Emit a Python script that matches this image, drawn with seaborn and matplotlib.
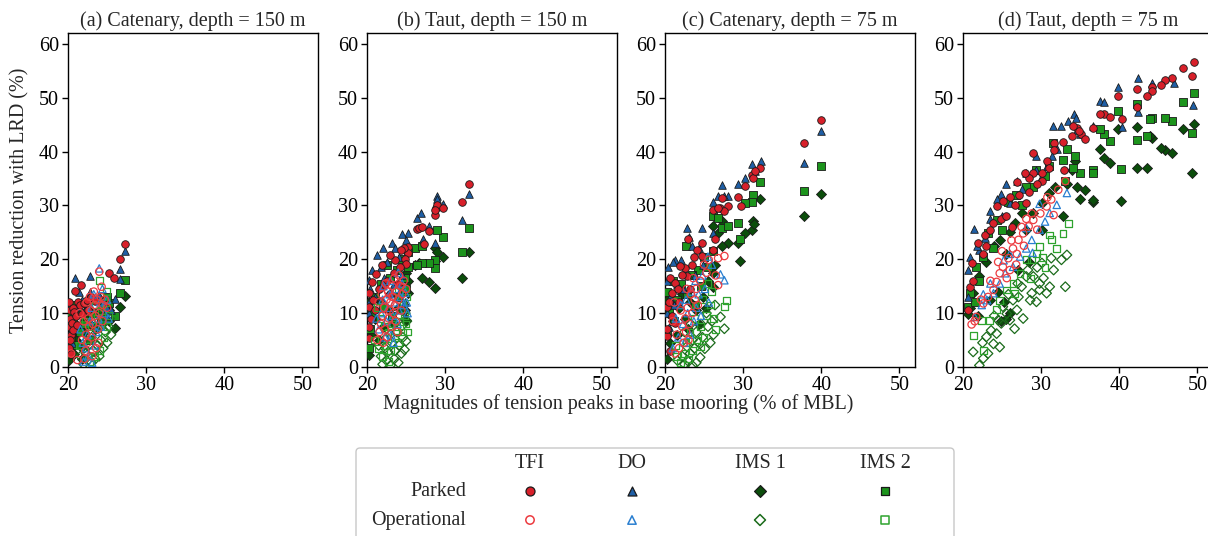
import numpy as np
import matplotlib
matplotlib.use("Agg")
import matplotlib.pyplot as plt
from matplotlib.patches import FancyBboxPatch
import seaborn as sns

# ---------------- data (x = peak tension % MBL, y = reduction %) ----------------
# Panel (a) Catenary, 150 m
A_TFI_P = [(20.1,12.0),(20.2,10.5),(20.3,9.0),(20.2,7.5),(20.4,6.0),(20.3,5.0),(20.6,11.0),(20.5,8.2),(20.8,10.2),(20.7,6.8),
           (20.9,14.1),(21.3,12.0),(21.0,9.5),(21.1,7.8),(21.6,15.2),(21.5,11.5),(22.0,11.8),(22.4,12.5),(23.0,13.0),(23.5,12.2),
           (25.3,17.4),(25.9,16.5),(26.7,20.1),(27.3,22.8),(20.1,3.5),(20.4,2.5),(21.8,9.8),(22.6,10.5)]
A_DO_P = [(20.85,16.5),(22.8,16.8),(21.4,13.9),(22.8,13.9),(26.7,18.1),(27.3,21.6),(26.0,12.7),(26.7,16.3),(20.3,11.5),(20.6,9.8),
          (21.0,11.2),(21.8,12.5),(22.3,11.0),(23.2,12.8),(24.0,13.3),(24.5,12.0),(25.0,11.0),(20.2,6.5),(20.5,4.5),(21.2,8.0),
          (24.8,9.5),(25.5,10.5)]
A_IMS1_P = [(27.3,13.2),(26.7,11.2),(26.0,7.3),(20.1,1.3),(20.2,3.0),(20.3,4.5),(20.5,6.0),(20.4,8.0),(20.8,2.5),(21.0,5.0),
            (21.3,7.5),(21.6,3.8),(22.0,6.5),(22.3,9.0),(22.8,8.0),(23.5,7.0),(24.0,10.0),(24.6,9.0),(25.2,8.5),(25.3,10.5),
            (20.7,10.0),(21.8,1.5)]
A_IMS2_P = [(27.3,16.1),(26.7,13.7),(26.0,9.5),(25.3,11.8),(20.2,2.5),(20.4,5.5),(20.6,8.5),(20.9,11.5),(21.2,4.0),(21.6,10.0),
            (22.1,8.0),(22.6,11.5),(23.1,10.0),(23.8,12.5),(24.5,11.0),(25.0,13.0),(20.3,10.0),(21.5,6.5),(22.8,5.0),(24.2,8.5)]
A_TFI_O = [(24.0,17.7),(24.3,14.9),(21.2,1.3),(20.4,2.5),(22.2,3.0),(22.5,4.5),(22.3,6.0),(22.7,7.5),(22.6,9.0),(22.9,10.5),
           (23.0,5.5),(23.2,8.0),(23.4,11.5),(23.5,9.5),(23.7,12.5),(23.8,7.0),(24.0,10.0),(24.2,13.0),(24.5,11.5),(22.4,12.0),
           (22.8,13.0),(23.3,14.0),(23.6,3.5),(22.1,1.5),(24.7,12.5),(25.0,11.0),(23.1,2.0),(22.0,8.5),(21.8,5.0),(21.5,10.0),
           (23.9,4.5),(24.4,8.5)]
A_DO_O = [(24.0,18.3),(22.0,1.0),(22.3,3.5),(22.5,6.0),(22.8,8.5),(23.0,11.0),(23.3,13.5),(23.6,6.5),(23.9,9.0),(24.1,12.0),
          (24.4,14.5),(24.7,10.0),(25.0,12.5),(22.6,2.0),(23.4,4.0),(24.2,7.5),(21.6,7.0),(21.9,4.5),(25.2,9.0),(23.1,0.8)]
A_IMS1_O = [(22.0,0.5),(22.5,1.2),(23.0,0.8),(23.5,1.5),(22.3,2.5),(23.2,3.0),(24.0,2.0),(24.5,3.5),(25.0,4.5),(25.5,6.0),
            (24.8,6.5),(24.2,5.0),(23.8,4.0),(23.0,5.5),(22.6,4.0),(22.1,3.5),(24.5,8.0),(25.2,7.5),(23.6,7.0),(22.9,6.5),
            (21.6,2.0),(25.3,9.0),(24.0,9.5),(23.4,8.5)]
A_IMS2_O = [(24.0,16.1),(25.0,7.5),(24.6,5.5),(24.1,3.0),(23.4,2.0),(22.8,1.0),(22.4,5.0),(23.0,7.5),(23.7,9.0),(24.3,10.5),
            (24.8,12.0),(25.2,9.5),(22.2,8.5),(21.5,4.0),(23.5,11.5),(24.9,14.0)]

# Panel (b) Taut, 150 m
B_TFI_P = [(33.1,33.9),(32.1,30.6),(28.8,29.5),(28.9,30.1),(28.7,28.3),(29.7,29.5),(28.7,29.1),(26.4,25.6),(26.7,25.8),(27.1,26.0),
           (27.9,25.2),(27.3,22.9),(25.2,22.3),(25.2,21.1),(24.7,22.0),(24.3,21.8),(23.6,19.9),(23.0,20.8),(21.9,18.9),(21.2,17.2),
           (20.6,15.8),(20.2,13.7),(20.2,11.2),(20.2,5.3),(24.8,20.1),(25.0,19.2),(24.2,18.5),(23.5,17.5),(22.6,16.0),(22.0,15.0),
           (21.5,14.5),(20.8,12.5),(20.5,9.0),(20.3,7.5),(21.0,10.5),(24.0,15.5),(23.0,13.5)]
B_DO_P = [(33.1,32.2),(32.1,27.3),(28.9,31.7),(29.0,31.2),(29.7,30.2),(26.4,27.6),(26.9,28.6),(27.9,26.2),(28.7,23.0),(27.2,23.7),
          (25.2,24.8),(24.5,24.6),(23.2,23.0),(23.6,22.1),(22.0,22.1),(21.3,20.8),(20.6,18.0),(20.2,16.1),(24.1,20.5),(25.0,23.5),
          (22.5,19.5),(21.8,18.5),(20.4,14.5),(20.2,12.0),(21.0,13.0),(22.2,16.5),(24.5,17.0),(23.4,15.5),(24.8,12.0),(20.3,10.0)]
B_IMS1_P = [(33.1,21.3),(32.1,16.5),(29.7,20.5),(28.7,22.0),(28.9,21.4),(28.7,19.6),(28.7,14.6),(27.9,15.8),(27.1,16.5),(26.2,18.9),
            (26.7,19.3),(25.2,13.7),(25.0,8.8),(20.2,2.2),(25.3,16.0),(25.0,17.5),(24.5,14.0),(24.0,11.0),(23.5,8.0),(22.8,10.5),
            (22.0,7.5),(21.5,5.0),(21.0,9.0),(20.5,6.0),(20.3,12.0),(24.8,10.5),(23.0,13.5),(21.8,12.0)]
B_IMS2_P = [(33.1,25.8),(32.1,21.4),(29.7,24.2),(28.9,25.5),(28.7,18.3),(28.7,19.9),(27.9,19.3),(27.1,19.3),(26.2,22.0),(27.0,22.4),
            (26.4,19.0),(25.2,21.4),(25.3,18.5),(24.8,16.5),(24.5,20.0),(23.8,18.0),(23.0,16.5),(22.5,19.0),(21.8,15.5),(21.0,13.0),
            (20.5,10.0),(20.2,3.5),(20.4,7.0),(22.0,11.0),(24.0,13.0),(25.0,14.5),(23.2,9.5)]
B_TFI_O = [(21.3,5.0),(21.6,6.5),(21.8,8.0),(22.0,9.5),(22.2,11.0),(22.3,7.0),(22.5,12.5),(22.6,5.5),(22.7,14.0),(22.8,9.0),
           (22.9,10.5),(23.0,12.0),(23.1,7.5),(23.2,15.0),(23.3,13.0),(23.4,10.0),(23.5,16.5),(23.6,11.5),(23.7,8.5),(23.8,14.0),
           (24.0,12.5),(24.1,17.0),(24.3,15.0),(24.5,13.5),(24.7,16.0),(21.5,12.0),(21.9,13.5),(22.4,15.5),(23.9,6.5),(24.4,10.5),
           (25.0,14.5),(22.1,4.5)]
B_DO_O = [(21.5,7.0),(21.8,10.0),(22.0,12.5),(22.3,5.5),(22.5,8.5),(22.7,11.0),(22.9,13.5),(23.1,6.0),(23.3,9.5),(23.5,12.0),
          (23.7,14.5),(23.9,8.0),(24.1,10.5),(24.3,13.0),(24.5,15.5),(24.7,11.5),(24.9,13.8),(25.1,12.0),(22.1,15.0),(23.0,16.0),
          (24.0,17.5),(25.2,10.0),(21.2,9.0),(23.4,4.5)]
B_IMS1_O = [(22.0,0.5),(22.5,1.2),(23.0,0.3),(23.5,1.5),(24.0,0.8),(24.4,2.5),(24.8,3.2),(25.0,4.8),(24.6,5.5),(24.1,4.0),
            (23.6,3.0),(23.2,4.5),(22.7,2.8),(22.3,3.5),(21.8,2.0),(23.0,6.0),(23.8,6.5),(24.4,7.5),(25.1,8.5),(22.5,5.5),
            (21.5,4.0),(24.9,10.0),(24.2,9.5),(23.4,8.0)]
B_IMS2_O = [(21.0,5.0),(21.5,3.5),(22.0,2.0),(22.5,4.0),(23.0,3.0),(23.5,5.5),(24.0,4.5),(24.5,6.5),(25.0,8.0),(25.2,6.5),
            (24.8,9.5),(24.2,8.5),(23.8,7.5),(23.2,8.0),(22.7,6.5),(22.2,7.5),(21.7,9.0),(24.6,11.5),(25.1,13.0),(24.0,14.0),
            (21.3,11.0),(22.8,1.0)]

# Panel (c) Catenary, 75 m
C_TFI_P = [(40.0,45.8),(37.8,41.6),(32.2,37.0),(31.1,35.7),(31.3,35.1),(31.5,36.4),(30.3,33.6),(29.7,29.9),(29.3,31.6),(27.3,31.4),
           (27.1,29.6),(28.1,29.8),(27.5,28.9),(26.1,29.2),(26.8,29.5),(26.4,23.7),(26.2,21.7),(24.7,23.0),(24.1,21.8),(23.0,23.8),
           (23.7,20.5),(22.6,18.4),(21.9,18.7),(20.6,16.5),(21.3,15.6),(20.9,13.7),(20.2,11.2),(20.9,9.4),(21.3,8.1),(20.2,5.7),
           (23.4,19.0),(24.7,20.6),(22.8,16.8),(20.5,12.0),(21.6,14.5),(22.2,17.0),(20.3,7.0),(20.6,3.0),(21.8,12.0),(23.2,14.5)]
C_DO_P = [(40.0,43.9),(37.8,37.9),(32.3,38.2),(31.1,37.6),(31.5,36.3),(29.3,34.0),(30.2,35.1),(26.1,30.7),(27.3,33.7),(26.8,31.7),
          (28.0,31.7),(27.6,31.7),(26.2,24.8),(24.7,25.8),(22.8,25.8),(23.1,24.2),(21.3,19.9),(20.4,18.6),(21.0,19.5),(22.0,19.8),
          (23.5,22.5),(24.3,22.0),(20.2,16.0),(20.6,13.0),(21.5,15.5),(22.5,17.5),(24.8,19.0),(20.3,10.0),(21.2,11.5),(22.3,14.5),
          (23.9,17.0),(20.5,7.5)]
C_IMS1_P = [(40.0,32.1),(37.8,28.1),(32.2,31.2),(31.3,27.1),(31.1,25.5),(31.4,26.5),(30.2,24.8),(29.3,23.1),(29.6,19.7),(26.1,26.1),
            (27.3,27.1),(26.8,24.8),(28.0,23.0),(27.3,22.5),(26.2,14.9),(26.2,17.4),(26.4,19.0),(25.5,16.0),(24.8,13.0),(24.0,10.5),
            (23.2,12.0),(22.5,9.0),(21.8,11.0),(21.0,8.5),(20.4,10.0),(20.2,1.5),(20.6,4.5),(21.5,6.0),(23.0,7.0),(24.4,8.0),
            (25.3,11.0),(22.2,13.5),(20.3,12.5)]
C_IMS2_P = [(40.0,37.3),(37.8,32.6),(32.2,34.3),(31.3,32.0),(31.1,30.7),(30.2,30.4),(29.3,26.8),(29.6,23.7),(26.1,28.1),(26.8,27.6),
            (27.3,25.8),(28.0,26.1),(26.2,21.6),(25.0,20.5),(24.2,18.0),(22.7,22.5),(23.5,17.0),(22.0,15.5),(21.0,16.0),(20.3,14.0),
            (20.5,10.5),(21.5,12.5),(22.8,13.5),(24.6,15.0),(20.2,6.5),(21.2,8.5),(23.8,11.5),(25.5,18.5)]
C_TFI_O = [(27.6,20.6),(26.8,20.2),(25.6,19.9),(25.0,19.0),(26.8,15.2),(26.5,17.0),(25.3,17.5),(24.5,16.0),(24.0,14.5),(23.8,12.5),
           (23.5,10.0),(23.3,13.5),(23.1,8.0),(22.9,11.0),(22.7,6.5),(22.6,9.0),(22.4,4.5),(22.2,7.5),(22.0,10.5),(21.8,3.5),
           (21.5,6.0),(21.3,2.5),(21.0,8.5),(22.8,14.5),(23.6,16.5),(24.2,11.5),(23.0,5.0),(21.2,12.0)]
C_DO_O = [(27.1,17.2),(27.6,16.1),(25.5,20.5),(26.0,19.0),(25.1,14.5),(25.6,12.0),(24.8,17.0),(24.3,13.5),(24.0,11.0),(23.7,8.5),
          (23.4,14.0),(23.2,6.0),(22.9,10.0),(22.7,12.5),(22.5,4.5),(22.3,8.0),(22.0,11.5),(21.7,5.5),(21.4,9.0),(21.0,3.5),
          (24.6,9.5),(23.9,16.0)]
C_IMS1_O = [(27.6,7.1),(27.1,9.3),(26.4,11.5),(25.1,3.4),(24.5,1.8),(24.0,0.8),(23.5,0.3),(23.0,1.0),(22.5,0.5),(23.2,2.5),
            (23.8,3.5),(24.3,4.5),(24.8,5.5),(25.5,7.5),(26.0,8.5),(25.3,10.0),(24.6,8.0),(24.0,6.5),(23.5,5.0),(22.8,3.8),
            (22.2,2.0),(21.6,1.2),(25.8,4.5),(26.2,6.0),(22.5,6.5),(23.3,8.0)]
C_IMS2_O = [(27.9,12.4),(27.6,11.2),(26.2,9.0),(26.5,7.0),(24.6,3.7),(25.0,5.5),(25.8,11.5),(26.0,14.0),(25.3,9.5),(24.5,7.5),
            (24.0,5.0),(23.5,3.0),(23.0,1.5),(22.5,2.5),(22.0,0.8),(21.5,2.0),(23.8,9.0),(24.8,12.5),(23.2,6.5),(22.7,4.5),
            (25.5,15.5),(21.3,4.0)]

# Panel (d) Taut, 75 m
D_TFI_P = [(49.6,56.7),(49.3,54.0),(48.1,55.5),(46.8,53.6),(45.9,53.3),(45.3,52.4),(44.2,52.0),(44.2,51.2),(43.6,50.3),(42.3,51.6),
           (42.3,48.3),(39.9,50.3),(40.3,46.1),(38.1,47.0),(37.5,47.0),(38.8,46.5),(36.6,44.4),(35.1,43.2),(34.6,44.4),(34.8,43.9),
           (34.1,44.7),(33.9,42.9),(35.6,42.4),(32.8,41.7),(31.6,41.6),(31.6,40.2),(30.7,38.3),(29.0,39.8),(29.0,36.0),(30.1,36.0),
           (30.1,34.5),(28.5,35.0),(27.9,36.0),(28.4,32.4),(26.9,34.3),(26.0,31.5),(26.6,30.0),(25.1,30.9),(24.3,29.8),(23.9,26.8),
           (22.8,24.5),(23.4,25.5),(21.9,23.0),(21.1,19.3),(20.9,14.9),(21.3,16.0),(22.5,21.0),(24.8,27.5),(27.2,32.0),(25.5,28.0),
           (29.5,34.0),(31.0,37.0),(32.9,36.5),(20.7,10.5),(26.3,26.0),(28.0,30.5),(23.0,22.5)]
D_DO_P = [(42.4,53.6),(44.2,52.8),(47.0,52.7),(42.4,47.4),(39.9,52.0),(37.6,49.3),(38.1,49.1),(40.3,44.6),(36.7,44.7),(49.4,48.6),
          (34.2,46.9),(33.5,45.7),(34.4,46.2),(32.5,44.8),(31.5,44.8),(35.0,43.2),(34.6,44.0),(31.4,39.1),(30.7,37.3),(29.3,39.1),
          (29.4,36.6),(28.1,36.0),(26.9,34.5),(25.5,34.0),(24.9,32.1),(24.4,31.1),(23.4,28.9),(23.5,27.5),(21.4,25.6),(22.1,21.7),
          (20.9,20.5),(20.6,18.0),(20.6,13.0),(22.8,24.0),(26.0,30.5),(27.5,33.0),(30.0,35.0),(32.0,40.5),(21.8,22.5),(25.0,28.0)]
D_IMS1_P = [(49.6,45.2),(48.1,44.1),(49.3,36.0),(46.8,39.8),(45.9,40.2),(45.3,40.6),(44.2,42.5),(44.0,42.8),(43.6,37.0),(42.3,37.0),
            (42.3,44.6),(40.2,30.9),(39.9,44.1),(38.8,37.9),(38.1,38.8),(37.5,40.4),(36.6,30.7),(36.6,31.0),(35.6,32.9),(35.0,31.2),
            (34.6,33.5),(33.9,36.6),(34.3,38.2),(33.3,33.9),(32.8,28.0),(31.8,33.5),(31.0,32.3),(30.1,30.4),(30.1,25.5),(29.0,28.6),
            (28.1,25.5),(26.6,26.7),(26.0,25.0),(24.7,23.6),(24.0,22.5),(22.1,16.8),(21.3,13.7),(20.6,9.9),(21.9,9.5),(20.9,11.0),
            (23.0,19.5),(25.5,21.0),(27.5,28.5),(24.5,14.0),(25.2,12.0),(26.0,10.0),(24.8,8.5),(25.5,9.0),(23.5,12.5),(27.0,18.0),
            (28.5,19.5)]
D_IMS2_P = [(49.6,50.9),(48.1,49.2),(49.3,43.5),(46.8,45.7),(45.9,46.2),(44.2,46.2),(44.0,46.0),(43.6,42.9),(42.3,42.2),(42.3,48.9),
            (40.2,36.8),(39.9,47.5),(38.8,41.9),(38.1,43.2),(37.5,44.1),(36.6,36.6),(36.6,36.0),(35.0,36.0),(34.1,37.0),(34.3,39.1),
            (33.3,40.4),(32.8,38.5),(31.5,41.6),(31.0,37.3),(29.4,36.6),(29.0,33.5),(28.1,33.5),(25.8,30.7),(26.8,32.0),(24.3,27.3),
            (23.2,24.8),(21.7,18.6),(20.9,13.7),(20.6,11.2),(21.5,12.1),(22.5,20.5),(27.5,30.0),(30.5,35.5),(33.0,34.5),(25.0,25.5),
            (23.8,22.0),(22.0,16.0)]
D_TFI_O = [(33.1,34.5),(32.2,32.9),(31.3,31.1),(30.7,29.8),(29.9,28.5),(29.0,27.3),(28.4,26.1),(27.7,24.8),(27.1,23.6),(26.4,22.0),
           (25.8,20.2),(25.1,18.6),(24.7,17.4),(24.3,15.8),(23.9,14.3),(23.2,13.0),(22.6,11.8),(21.7,9.3),(21.1,7.9),(21.5,8.5),
           (27.5,26.0),(26.9,21.0),(26.2,23.5),(25.0,21.5),(28.1,27.5),(28.8,28.5),(30.8,31.5),(31.6,28.2),(25.6,16.5),(26.8,19.0),
           (24.5,19.5),(23.5,16.0),(29.5,25.5),(27.8,22.5),(22.3,12.5),(26.0,18.0)]
D_DO_O = [(33.3,32.3),(32.0,30.1),(31.1,28.6),(29.8,25.5),(28.8,23.6),(28.1,22.0),(27.3,20.5),(26.4,18.6),(25.4,17.4),(24.7,15.5),
          (23.9,13.7),(23.1,12.4),(22.4,11.5),(21.5,9.3),(26.0,21.0),(25.2,19.8),(29.8,30.3),(28.1,25.8),(28.9,21.2),(23.5,15.5),
          (22.6,13.5),(30.5,27.0)]
D_IMS1_O = [(33.1,14.9),(33.3,20.8),(32.6,19.9),(31.3,20.2),(31.6,18.0),(30.1,19.3),(29.8,15.5),(29.8,14.3),(29.0,16.8),(28.8,13.7),
            (28.1,16.8),(27.5,14.9),(27.7,9.0),(26.9,10.6),(26.4,12.4),(26.0,8.7),(25.6,9.9),(24.9,8.1),(24.3,6.2),(23.9,4.3),
            (23.2,2.5),(22.6,1.6),(22.1,0.3),(21.3,2.8),(23.0,5.6),(23.6,6.8),(24.5,8.7),(25.1,11.2),(27.1,13.0),(28.6,12.4),
            (29.4,12.1),(30.7,13.7),(31.1,14.9),(30.3,16.5),(26.6,7.1),(24.7,3.7),(27.0,15.5),(25.8,13.5),(24.0,9.5),(28.3,18.0),
            (29.5,18.5),(22.5,4.5)]
D_IMS2_O = [(33.5,26.7),(32.8,24.8),(31.1,24.5),(31.3,23.6),(29.8,22.4),(29.4,21.1),(28.8,20.0),(28.1,19.9),(27.3,17.4),(26.4,15.5),
            (25.6,14.3),(24.7,12.4),(24.3,10.6),(23.4,8.7),(22.4,8.7),(21.3,5.9),(22.6,3.1),(26.6,13.7),(28.6,16.5),(30.2,20.3),
            (30.5,18.5),(32.0,22.0)]

TITLES = ["(a) Catenary, depth = 150 m", "(b) Taut, depth = 150 m",
          "(c) Catenary, depth = 75 m", "(d) Taut, depth = 75 m"]
X_TICKS = [20, 30, 40, 50]
Y_TICKS = [0, 10, 20, 30, 40, 50, 60]
METHODS = ["TFI", "DO", "IMS 1", "IMS 2"]
CONDITIONS = ["Parked", "Operational"]

PANEL_DATA = [
    {"P": [A_IMS1_P, A_IMS2_P, A_DO_P, A_TFI_P], "O": [A_IMS1_O, A_IMS2_O, A_DO_O, A_TFI_O]},
    {"P": [B_IMS1_P, B_IMS2_P, B_DO_P, B_TFI_P], "O": [B_IMS1_O, B_IMS2_O, B_DO_O, B_TFI_O]},
    {"P": [C_IMS1_P, C_IMS2_P, C_DO_P, C_TFI_P], "O": [C_IMS1_O, C_IMS2_O, C_DO_O, C_TFI_O]},
    {"P": [D_IMS1_P, D_IMS2_P, D_DO_P, D_TFI_P], "O": [D_IMS1_O, D_IMS2_O, D_DO_O, D_TFI_O]},
]

# styles, in drawing order IMS1, IMS2, DO, TFI
P_STYLE = [dict(marker="D", s=26, color="#0b4d0b"),
           dict(marker="s", s=26, color="#1c941c"),
           dict(marker="^", s=30, color="#1f5fa6"),
           dict(marker="o", s=30, color="#d8202a")]
O_STYLE = [dict(marker="D", s=24, color="#1b6b1b"),
           dict(marker="s", s=24, color="#2ea32e"),
           dict(marker="^", s=28, color="#2a7fd0"),
           dict(marker="o", s=28, color="#ec3b40")]

FS = 14.5

# ---------------- figure ----------------
sns.set_style("ticks")
plt.rcParams["font.family"] = ["Liberation Serif", "DejaVu Serif"]
plt.rcParams["font.size"] = FS

W, H = 1208, 536
fig = plt.figure(figsize=(W / 100, H / 100), dpi=100)

lefts = [68, 367, 665, 963]
ax_w, top, bottom = 250, 33, 367


def draw(ax, pts, style, filled):
    xs = [p[0] for p in pts]
    ys = [p[1] for p in pts]
    if filled:
        sns.scatterplot(x=xs, y=ys, ax=ax, marker=style["marker"], s=style["s"],
                        facecolor=style["color"], edgecolor="#1a1a1a", linewidth=0.6, zorder=3)
    else:
        sns.scatterplot(x=xs, y=ys, ax=ax, marker=style["marker"], s=style["s"],
                        facecolors="none", edgecolor=style["color"], linewidth=0.9, zorder=3)


for i, (l, title, pdata) in enumerate(zip(lefts, TITLES, PANEL_DATA)):
    ax = fig.add_axes([l / W, (H - bottom) / H, ax_w / W, (bottom - top) / H])
    for pts, st in zip(pdata["P"], P_STYLE):
        draw(ax, pts, st, True)
    for pts, st in zip(pdata["O"], O_STYLE):
        draw(ax, pts, st, False)
    ax.set_xlim(20, 52)
    ax.set_ylim(0, 62)
    ax.set_xticks(X_TICKS)
    ax.set_yticks(Y_TICKS)
    ax.set_title(title, fontsize=FS, pad=5)
    ax.tick_params(length=4, width=1, colors="black", labelsize=FS, pad=2.5)
    for sp in ax.spines.values():
        sp.set_color("black")
        sp.set_linewidth(1.0)
    if i == 0:
        ax.set_ylabel("Tension reduction with LRD (%)", fontsize=FS, labelpad=7)

fig.text(618 / W, 1 - 404 / H, "Magnitudes of tension peaks in base mooring (% of MBL)",
         ha="center", va="center", fontsize=FS)

# ---------------- custom legend table ----------------
lx0, lx1, ly0 = 355, 955, 447
lax = fig.add_axes([lx0 / W, 0, (lx1 - lx0) / W, (H - ly0) / H])
lax.set_xlim(lx0, lx1)
lax.set_ylim(H, ly0)
lax.axis("off")
box = FancyBboxPatch((lx0 + 1, ly0 + 1), lx1 - lx0 - 2, 120, boxstyle="round,pad=0,rounding_size=4",
                     fc="white", ec="#c8c8c8", lw=1.0, clip_on=False, transform=lax.transData)
lax.add_patch(box)
col_x = [530, 632, 760, 885]
for cx, m in zip(col_x, METHODS):
    lax.text(cx, 463, m, ha="center", va="center", fontsize=FS)
row_y = [491, 520]
for ry, c in zip(row_y, CONDITIONS):
    lax.text(466, ry, c, ha="right", va="center", fontsize=FS)
leg_order = [3, 2, 0, 1]  # TFI, DO, IMS1, IMS2 indices into style lists
for cx, k in zip(col_x, leg_order):
    sp, so = P_STYLE[k], O_STYLE[k]
    lax.scatter([cx], [row_y[0]], marker=sp["marker"], s=sp["s"] * 1.4, facecolor=sp["color"],
                edgecolor="#1a1a1a", linewidth=0.9, clip_on=False)
    lax.scatter([cx], [row_y[1]], marker=so["marker"], s=so["s"] * 1.3, facecolors="none",
                edgecolor=so["color"], linewidth=1.1, clip_on=False)

fig.savefig("out.png", dpi=100)
